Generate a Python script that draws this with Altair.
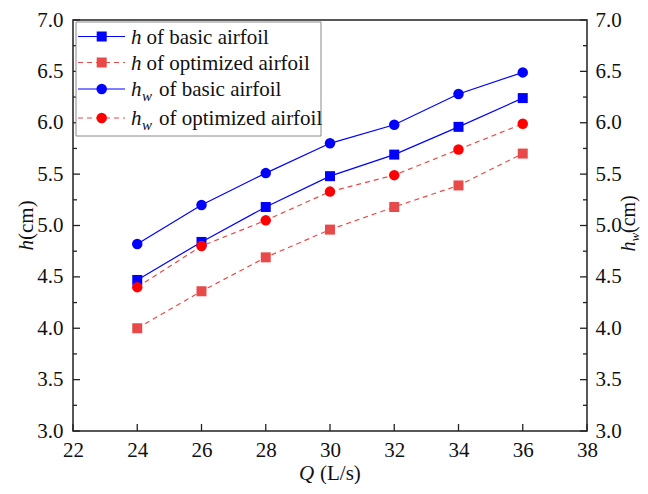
import altair as alt
import pandas as pd

# ---- data ----
Q = [24, 26, 28, 30, 32, 34, 36]
h_basic = [4.47, 4.84, 5.18, 5.48, 5.69, 5.96, 6.24]
h_opt = [4.00, 4.36, 4.69, 4.96, 5.18, 5.39, 5.70]
hw_basic = [4.82, 5.20, 5.51, 5.80, 5.98, 6.28, 6.49]
hw_opt = [4.40, 4.80, 5.05, 5.33, 5.49, 5.74, 5.99]

x_ticks = [22, 24, 26, 28, 30, 32, 34, 36, 38]
y_major = [3.0, 3.5, 4.0, 4.5, 5.0, 5.5, 6.0, 6.5, 7.0]
y_minor = [3.25, 3.75, 4.25, 4.75, 5.25, 5.75, 6.25, 6.75]

legend_rest = ["of basic airfoil", "of optimized airfoil", "of basic airfoil", "of optimized airfoil"]

# ---- layout / style ----
W, H = 514, 411
FONT = "Times New Roman, Liberation Serif, DejaVu Serif, serif"
BLUE = "#0000FF"
RED_L = "#E84A4A"
RED = "#FF0000"
DASH = [5, 4]
TXT = "#111111"
LBL = 21

xs = alt.Scale(domain=[22, 38], nice=False, zero=False)
ys = alt.Scale(domain=[3, 7], nice=False, zero=False)

x_axis = alt.Axis(values=x_ticks, format="d", ticks=False, domain=False, grid=False,
                  labelFont=FONT, labelFontSize=LBL, labelColor=TXT, labelPadding=8,
                  title=None, labelFlush=False)
y_axis_left = alt.Axis(values=y_major, format=".1f", ticks=False, domain=False, grid=False,
                       labelFont=FONT, labelFontSize=LBL, labelColor=TXT, labelPadding=10,
                       title=None, orient="left", labelFlush=False)
y_axis_right = alt.Axis(values=y_major, format=".1f", ticks=False, domain=False, grid=False,
                        labelFont=FONT, labelFontSize=LBL, labelColor=TXT, labelPadding=8,
                        title=None, orient="right", labelFlush=False)

X = alt.X("Q:Q", scale=xs, axis=x_axis)
Y = alt.Y("v:Q", scale=ys, axis=y_axis_left)

series = [
    (h_basic, BLUE, BLUE, "square", None),
    (h_opt, RED_L, RED_L, "square", DASH),
    (hw_basic, BLUE, BLUE, "circle", None),
    (hw_opt, RED_L, RED, "circle", DASH),
]

layers = []
for vals, lc, mc, shape, dash in series:
    df = pd.DataFrame({"Q": Q, "v": vals})
    lkw = dict(color=lc, strokeWidth=1.2)
    if dash:
        lkw["strokeDash"] = dash
    layers.append(alt.Chart(df).mark_line(**lkw).encode(x=X, y=Y))
    size = 100 if shape == "square" else 110
    layers.append(alt.Chart(df).mark_point(shape=shape, filled=True, size=size, color=mc,
                                           opacity=1, strokeWidth=0).encode(x=X, y=Y))

# inward ticks (left and bottom)
ymaj_df = pd.DataFrame({"v": y_major})
ymin_df = pd.DataFrame({"v": y_minor})
xt_df = pd.DataFrame({"Q": x_ticks})
tick_kw = dict(color="#222", strokeWidth=1.3)
layers.append(alt.Chart(ymaj_df).mark_rule(**tick_kw).encode(y=Y, x=alt.value(0), x2=alt.value(7)))
layers.append(alt.Chart(ymin_df).mark_rule(**tick_kw).encode(y=Y, x=alt.value(0), x2=alt.value(4)))
layers.append(alt.Chart(xt_df).mark_rule(**tick_kw).encode(x=X, y=alt.value(H), y2=alt.value(H - 7)))

one = alt.Data(values=[{"a": 1}])


def txt(text, x, y, size=21, italic=False, angle=0, align="left"):
    return alt.Chart(one).mark_text(
        text=text, font=FONT, fontSize=size, fontStyle="italic" if italic else "normal",
        align=align, baseline="alphabetic", angle=angle, color=TXT
    ).encode(x=alt.value(x), y=alt.value(y))


# legend box
layers.append(alt.Chart(one).mark_rect(fill="white", stroke="#8a8a8a", strokeWidth=1).encode(
    x=alt.value(3), x2=alt.value(248), y=alt.value(2), y2=alt.value(116)))

row_y = [16.5, 42.5, 69, 98]
for i, (vals, lc, mc, shape, dash) in enumerate(series):
    ry = row_y[i]
    rkw = dict(color=lc, strokeWidth=1.2)
    if dash:
        rkw["strokeDash"] = DASH
    layers.append(alt.Chart(one).mark_rule(**rkw).encode(
        x=alt.value(5), x2=alt.value(52), y=alt.value(ry)))
    size = 100 if shape == "square" else 110
    layers.append(alt.Chart(one).mark_point(shape=shape, filled=True, size=size, color=mc,
                                            opacity=1, strokeWidth=0).encode(
        x=alt.value(28.7), y=alt.value(ry)))
    base = ry + 7
    layers.append(txt("h", 58, base, italic=True))
    if i < 2:
        layers.append(txt(legend_rest[i], 73.5, base))
    else:
        layers.append(txt("w", 69, base + 5, size=15, italic=True))
        layers.append(txt(legend_rest[i], 86, base))

# axis titles
# left: h(cm), rotated, centered on plot middle
lt_bottom = H / 2 + 25
layers.append(txt("h", -40, lt_bottom, italic=True, angle=270))
layers.append(txt("(cm)", -40, lt_bottom - 10.5, angle=270))
# bottom: Q (L/s)
layers.append(txt("Q", 226, H + 49, size=21, italic=True))
layers.append(txt("(L/s)", 247, H + 49, size=21))
# right: h_w(cm)
rt_bottom = H / 2 + 26
layers.append(txt("h", 562, rt_bottom, size=20, italic=True, angle=270))
layers.append(txt("w", 565.5, rt_bottom - 10, size=13, italic=True, angle=270))
layers.append(txt("(cm)", 562, rt_bottom - 18.5, size=20, angle=270))

main = alt.layer(*layers)

# right axis layer with its own (identical) y scale
Yr = alt.Y("v:Q", scale=ys, axis=y_axis_right)
right = alt.layer(
    alt.Chart(ymaj_df).mark_rule(**tick_kw).encode(y=Yr, x=alt.value(W), x2=alt.value(W - 7)),
    alt.Chart(ymin_df).mark_rule(**tick_kw).encode(y=Yr, x=alt.value(W), x2=alt.value(W - 4)),
)

chart = alt.layer(main, right).resolve_scale(y="independent").properties(
    width=W, height=H,
    autosize=alt.AutoSizeParams(type="none"),
    padding={"left": 65, "top": 12, "right": 53, "bottom": 53},
    background="white",
).configure_view(stroke="#222", strokeWidth=1.5)

chart.save("out.html", embed_options={"renderer": "svg", "actions": False})
